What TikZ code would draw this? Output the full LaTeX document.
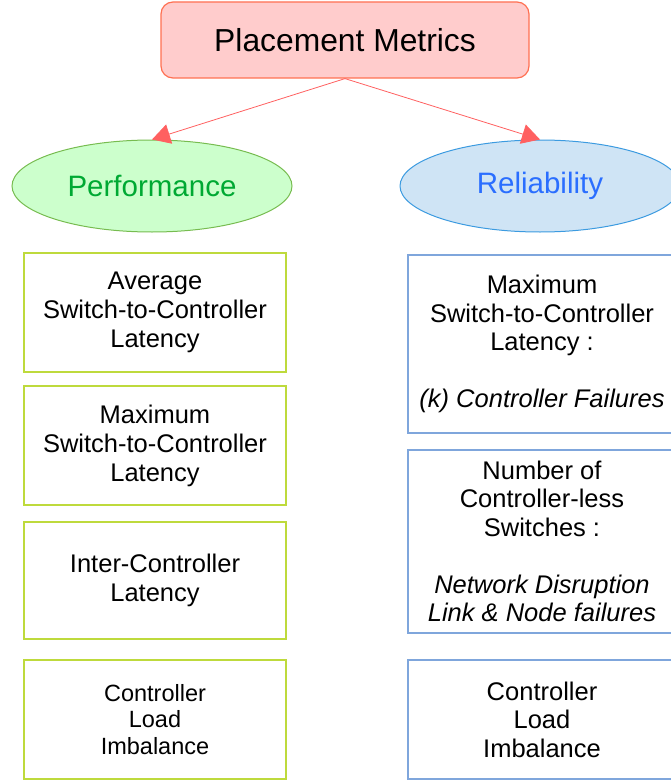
\documentclass[tikz,border=0pt]{standalone}
\usepackage{fontspec}
\setmainfont{Liberation Sans}
\usetikzlibrary{shapes.geometric,arrows.meta}

\definecolor{titlefill}{RGB}{255,204,204}
\definecolor{titledraw}{RGB}{255,112,82}
\definecolor{linkred}{RGB}{255,96,96}
\definecolor{perffill}{RGB}{204,255,204}
\definecolor{perfdraw}{RGB}{119,188,80}
\definecolor{perftext}{RGB}{0,169,51}
\definecolor{relfill}{RGB}{207,228,245}
\definecolor{reldraw}{RGB}{60,155,224}
\definecolor{reltext}{RGB}{42,110,255}
\definecolor{leftdraw}{RGB}{190,218,60}
\definecolor{rightdraw}{RGB}{127,166,220}

\tikzset{
  titlebox/.style={draw=titledraw, fill=titlefill, line width=1.2pt,
    rounded corners=12pt, minimum width=368pt, minimum height=76pt,
    inner sep=0pt, font=\fontsize{31.8}{36}\selectfont},
  group/.style={ellipse, line width=1pt, minimum width=280pt,
    minimum height=92pt, inner sep=0pt, font=\fontsize{29.5}{34}\selectfont},
  perfgroup/.style={group, draw=perfdraw, fill=perffill, text=perftext},
  relgroup/.style={group, draw=reldraw, fill=relfill, text=reltext},
  metric/.style={rectangle, inner sep=0pt, align=center,
    line width=1.6pt, font=\fontsize{25.5}{29}\selectfont},
  leftmetric/.style={metric, draw=leftdraw, minimum width=262pt},
  rightmetric/.style={metric, draw=rightdraw, minimum width=268pt,
    font=\fontsize{25.5}{28.5}\selectfont},
  link/.style={draw=linkred, line width=0.8pt,
    -{Triangle[length=18pt,width=20pt]}}
}

\begin{document}
\begin{tikzpicture}[x=1pt,y=-1pt]
  \useasboundingbox (0,0) rectangle (670,781);

  % root
  \node[titlebox] (root) at (345,40) {Placement Metrics};

  % two metric groups
  \node[perfgroup] (perf) at (152,186) {Performance};
  \node[relgroup]  (rel)  at (540,186) {Reliability};

  \draw[link] (root.south) -- (perf.north);
  \draw[link] (root.south) -- (rel.north);

  % performance metrics
  \node[leftmetric, minimum height=119pt] (p1) at (155,312.5)
    {Average\\Switch-to-Controller\\Latency};
  \node[leftmetric, minimum height=119pt] (p2) at (155,445.5)
    {Maximum\\Switch-to-Controller\\Latency};
  \node[leftmetric, minimum height=117pt] (p3) at (155,580.5)
    {Inter-Controller\\Latency};
  \node[leftmetric, minimum height=119pt,
        font=\fontsize{23.5}{26.5}\selectfont] (p4) at (155,719.5)
    {Controller\\Load\\Imbalance};

  % reliability metrics
  \node[rightmetric, minimum height=178pt] (r1) at (542,344)
    {Maximum\\Switch-to-Controller\\Latency :\\[28.5pt]
     \textit{(k) Controller Failures}};
  \node[rightmetric, minimum height=183pt] (r2) at (542,541.5)
    {Number of\\Controller-less\\Switches :\\[28.5pt]
     \textit{Network Disruption}\\\textit{Link \& Node failures}};
  \node[rightmetric, minimum height=119pt] (r3) at (542,719.5)
    {Controller\\Load\\Imbalance};
\end{tikzpicture}
\end{document}
